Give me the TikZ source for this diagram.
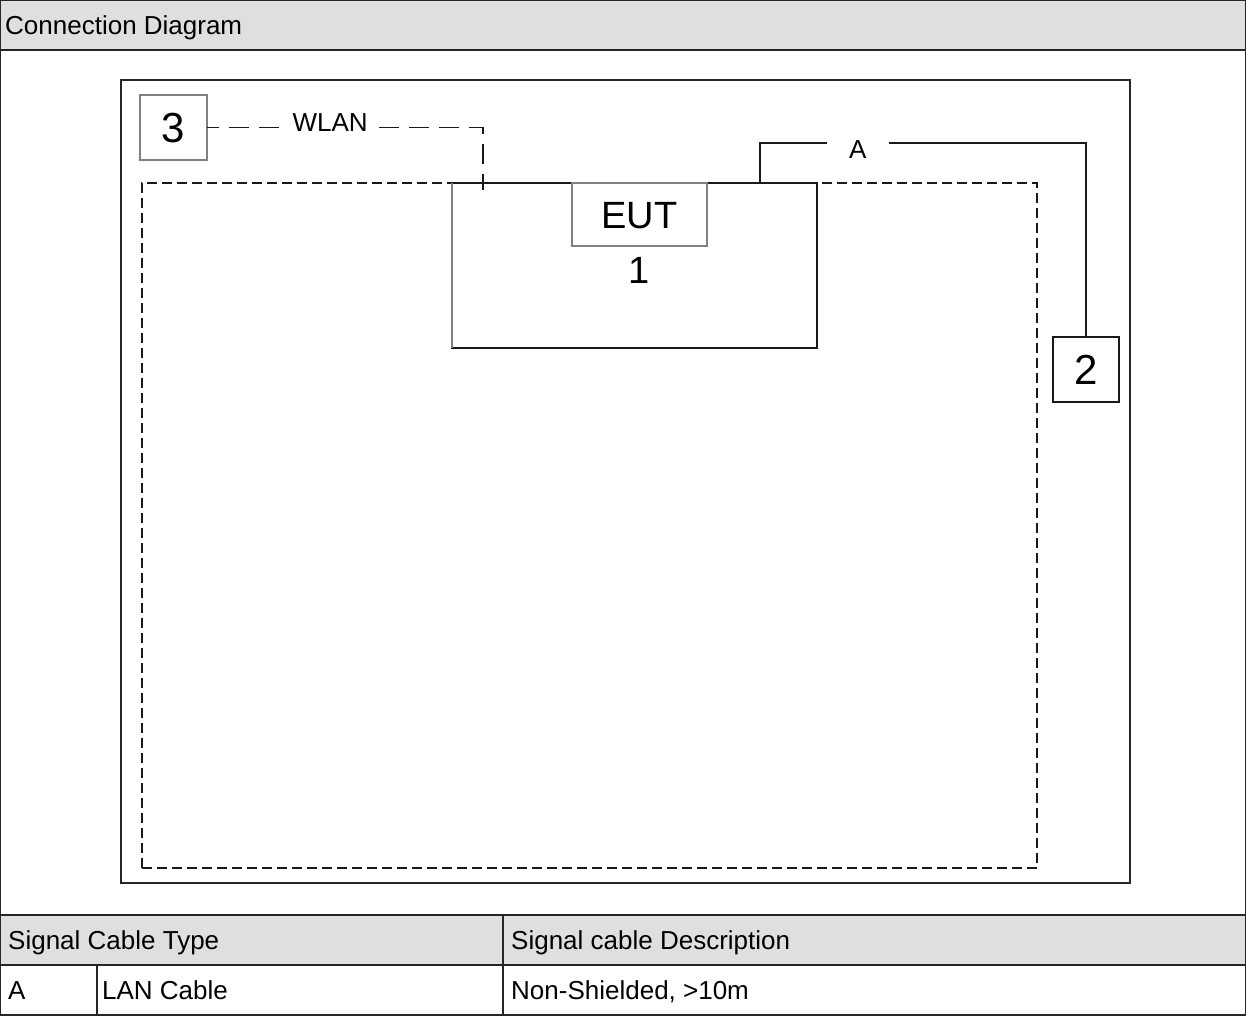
\documentclass[tikz,border=0pt]{standalone}
\usepackage{fontspec}
\setmainfont{Liberation Sans}
\usetikzlibrary{arrows.meta, positioning}
\tikzset{
    >=Latex,
    font=\fontsize{26}{30}\selectfont,
    cd_cell/.style={
        rectangle,
        draw=black!85,
        line width=2.5pt,
        outer sep=0pt,
        anchor=north west,
        minimum height=50pt
    },
    cd_head/.style={
        cd_cell,
        fill=gray!25
    },
    cd_text/.style={
        inner sep=5pt,
        text height=19pt,
        text depth=0pt,
        anchor=west
    },
    cd_frame/.style={
        rectangle,
        draw=black!85,
        line width=2pt,
        outer sep=0pt,
        anchor=north west
    },
    cd_zone/.style={
        rectangle,
        draw=black!90,
        line width=1.5pt,
        dash pattern=on 10pt off 5pt,
        outer sep=0pt,
        anchor=north west
    },
    cd_box/.style={
        rectangle,
        draw=black!90,
        line width=1.5pt,
        outer sep=0pt
    },
    cd_unit/.style={
        rectangle,
        draw=gray,
        line width=1.5pt,
        outer sep=0pt,
        text height=30pt,
        text depth=0pt,
        font=\fontsize{42}{48}\selectfont
    },
    cd_label/.style={
        cd_unit,
        text height=28pt,
        font=\fontsize{38}{44}\selectfont
    },
    cd_num/.style={
        inner sep=0pt,
        text height=28pt,
        text depth=0pt,
        font=\fontsize{38}{44}\selectfont
    },
    cd_cable/.style={
        draw=black!90,
        line width=1.5pt
    },
    cd_wireless/.style={
        cd_cable,
        dash pattern=on 20pt off 10pt,
        dash phase=8pt
    },
    cd_gap/.style={
        fill=white,
        inner sep=0pt,
        minimum height=22pt,
        text height=19pt,
        text depth=0pt
    }
}

\begin{document}
\begin{tikzpicture}[x=1pt, y=-1pt]
\useasboundingbox (0,0) rectangle (1246,1015);

% --- Outer form ---
\node[cd_head, minimum width=1246pt] (title) at (0,0) {};
\node[cd_text, right=0pt of title.west] (titletext) {Connection Diagram};
\node[cd_head, minimum width=503pt] (typehead) at (0,915) {};
\node[cd_head, minimum width=743pt, right=0pt of typehead.north east, anchor=north west] (deschead) {};
\node[cd_cell, minimum width=97pt, below=0pt of typehead.south west, anchor=north west] (typecode) {};
\node[cd_cell, minimum width=406pt, right=0pt of typecode.north east, anchor=north west] (typename) {};
\node[cd_cell, minimum width=743pt, right=0pt of typename.north east, anchor=north west] (typedesc) {};
\draw[draw=black!85, line width=2.5pt] (title.south west) -- (typehead.north west);
\draw[draw=black!85, line width=2.5pt] (title.south east) -- (deschead.north east);

\node[cd_text, right=3pt of typehead.west] {Signal Cable Type};
\node[cd_text, right=3pt of deschead.west] {Signal cable Description};
\node[cd_text, right=3pt of typecode.west] {A};
\node[cd_text, right=0pt of typename.west] {LAN Cable};
\node[cd_text, right=3pt of typedesc.west] {Non-Shielded, >10m};

% --- Test setup ---
\node[cd_frame, minimum width=1009pt, minimum height=803pt] (setup) at (121,80) {};
\node[cd_zone, minimum width=895pt, minimum height=685pt] (tabletop) at (142,183) {};

\node[cd_box, minimum width=365pt, minimum height=165pt] (eut) at (634.5,265.5) {};
\draw[draw=gray, line width=1.5pt] (eut.north west) -- (eut.south west);
\node[cd_label, minimum width=135pt, minimum height=63pt, anchor=north] (eutlabel) at ([xshift=5pt]eut.north) {EUT};
\node[cd_num, below=9pt of eutlabel] (eutnum) {1};

\node[cd_unit, minimum width=67pt, minimum height=65pt] (unit3) at (173.5,127.5) {3};
\node[cd_unit, draw=black!90, minimum width=66pt, minimum height=65pt] (unit2) at (1086,369.5) {2};

% --- Cables ---
\coordinate (wlanend) at ([xshift=-151.5pt, yshift=-7pt]eut.north);
\draw[cd_wireless] (unit3.east) -| node[cd_gap, pos=0.223, yshift=6pt, minimum width=96pt] {WLAN} (wlanend);
\draw[cd_cable] ([xshift=125.5pt]eut.north) -- ++(0,-40) coordinate (cornerA)
    -- node[cd_gap, pos=0.3, yshift=-6pt, minimum width=62pt] {A} (cornerA -| unit2.north) -- (unit2.north);

\end{tikzpicture}
\end{document}
